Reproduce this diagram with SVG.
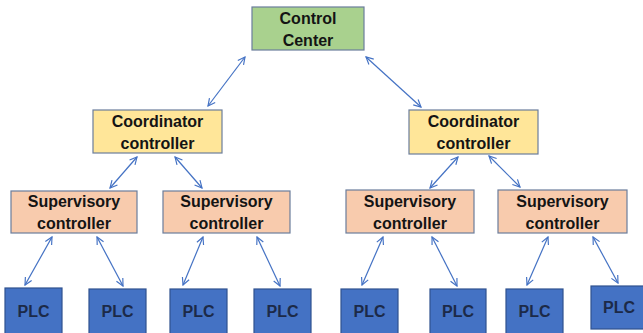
<svg xmlns="http://www.w3.org/2000/svg" width="643" height="333" viewBox="0 0 643 333">
<defs>
<marker id="ah" viewBox="0 0 10 10" refX="9" refY="5" markerWidth="9" markerHeight="9" markerUnits="userSpaceOnUse" orient="auto-start-reverse">
<path d="M1,1 L9,5 L1,9" fill="none" stroke="#4472c4" stroke-width="1.3"/>
</marker>
</defs>
<style>
.t{font-family:"Liberation Sans",Arial,sans-serif;font-weight:bold;font-size:16px;fill:#141414;text-anchor:middle}
.p{fill:#1c2a48}
.b{stroke:#6b7d9c;stroke-width:1.2}
.cc{fill:#a9d18e}
.co{fill:#ffe699}
.su{fill:#f8cbad}
.plc{fill:#4472c4;stroke:#2f528f;stroke-width:1.2}
.c line{stroke:#4472c4;stroke-width:1.2;marker-start:url(#ah);marker-end:url(#ah)}
</style>
<rect width="643" height="333" fill="#ffffff"/>
<g class="c" id="connectors">
<line x1="245" y1="57" x2="208" y2="106"/>
<line x1="366" y1="57" x2="421" y2="107"/>
<line x1="137" y1="157" x2="110" y2="188"/>
<line x1="175" y1="157" x2="202" y2="188"/>
<line x1="458" y1="157" x2="430" y2="188"/>
<line x1="489" y1="156" x2="520" y2="187"/>
<line x1="52" y1="237" x2="25" y2="285"/>
<line x1="97" y1="237" x2="123" y2="286"/>
<line x1="203" y1="237" x2="183" y2="285"/>
<line x1="257" y1="237" x2="280" y2="286"/>
<line x1="383" y1="237" x2="362" y2="285"/>
<line x1="432" y1="237" x2="457" y2="286"/>
<line x1="548" y1="237" x2="527" y2="285"/>
<line x1="593" y1="237" x2="618" y2="283"/>
</g>
<g id="control-center"><rect class="cc b" x="252" y="7" width="112" height="43"/><text class="t" x="308" y="24">Control</text><text class="t" x="308" y="46">Center</text></g>
<g id="coord-left"><rect class="co b" x="93" y="110" width="129" height="43"/><text class="t" x="157.5" y="127">Coordinator</text><text class="t" x="157.5" y="149">controller</text></g>
<g id="coord-right"><rect class="co b" x="409" y="110" width="129" height="44"/><text class="t" x="473.5" y="127">Coordinator</text><text class="t" x="473.5" y="149">controller</text></g>
<g id="sup-1"><rect class="su b" x="11" y="191" width="126" height="42"/><text class="t" x="74" y="207">Supervisory</text><text class="t" x="74" y="229">controller</text></g>
<g id="sup-2"><rect class="su b" x="163" y="191" width="127" height="42"/><text class="t" x="226.5" y="207">Supervisory</text><text class="t" x="226.5" y="229">controller</text></g>
<g id="sup-3"><rect class="su b" x="346" y="190" width="128" height="43"/><text class="t" x="410" y="207">Supervisory</text><text class="t" x="410" y="229">controller</text></g>
<g id="sup-4"><rect class="su b" x="498" y="190" width="129" height="43"/><text class="t" x="562.5" y="207">Supervisory</text><text class="t" x="562.5" y="229">controller</text></g>
<g id="plc-1"><rect class="plc" x="5" y="288" width="57" height="50"/><text class="t p" x="33.5" y="317">PLC</text></g>
<g id="plc-2"><rect class="plc" x="89" y="289" width="57" height="50"/><text class="t p" x="117.5" y="317">PLC</text></g>
<g id="plc-3"><rect class="plc" x="170" y="289" width="57" height="50"/><text class="t p" x="198.5" y="317">PLC</text></g>
<g id="plc-4"><rect class="plc" x="254" y="289" width="57" height="50"/><text class="t p" x="282.5" y="317">PLC</text></g>
<g id="plc-5"><rect class="plc" x="341" y="289" width="57" height="50"/><text class="t p" x="369.5" y="317">PLC</text></g>
<g id="plc-6"><rect class="plc" x="430" y="289" width="56" height="50"/><text class="t p" x="458" y="317">PLC</text></g>
<g id="plc-7"><rect class="plc" x="506" y="289" width="57" height="50"/><text class="t p" x="534.5" y="317">PLC</text></g>
<g id="plc-8"><rect class="plc" x="591" y="286" width="56" height="43"/><text class="t p" x="619" y="313">PLC</text></g>
</svg>
